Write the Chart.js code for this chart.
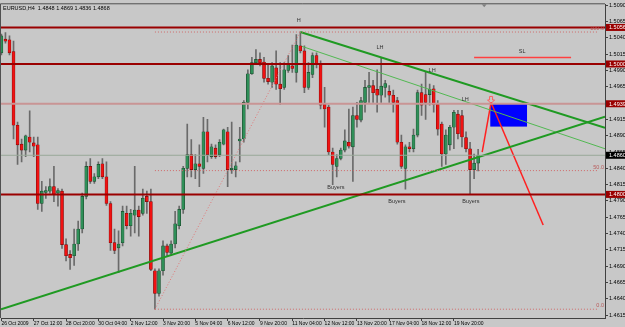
<!DOCTYPE html>
<html>
<head>
<meta charset="utf-8">
<script src="https://cdn.jsdelivr.net/npm/chart.js@4"></script>
<style>
  html, body { margin: 0; padding: 0; background: #c8c8c8; }
  #wrap { width: 625px; height: 327px; }
</style>
</head>
<body>
<div id="wrap"><canvas id="myChart"></canvas></div>
<script>
// EURUSD H4, 26 Oct - 20 Nov 2009 (one value per 4h bar)
const opens = [
  1.5017, 1.5038, 1.5037, 1.5019, 1.4906, 1.4877, 1.4868, 1.4888, 1.4879, 1.4876,
  1.4786, 1.4803, 1.4805, 1.4812, 1.4802, 1.4805, 1.4723, 1.4708, 1.4706, 1.4724,
  1.4747, 1.4797, 1.4843, 1.4820, 1.4827, 1.4847, 1.4827, 1.4786, 1.4726, 1.4718,
  1.4726, 1.4771, 1.4752, 1.4768, 1.4776, 1.4771, 1.4797, 1.4789, 1.4683, 1.4648,
  1.4683, 1.4721, 1.4710, 1.4724, 1.4752, 1.4777, 1.4840, 1.4861, 1.4838, 1.4847,
  1.4840, 1.4896, 1.4858, 1.4871, 1.4861, 1.4877, 1.4896, 1.4838, 1.4838, 1.4882,
  1.4885, 1.4941, 1.4985, 1.5002, 1.5007, 1.5003, 1.4978, 1.4972, 1.4994, 1.4969,
  1.4964, 1.4990, 1.4997, 1.4987, 1.5028, 1.5020, 1.4964, 1.4984, 1.5013, 1.4999,
  1.4938, 1.4934, 1.4865, 1.4843, 1.4855, 1.4868, 1.4880, 1.4873, 1.4921, 1.4914,
  1.4941, 1.4964, 1.4967, 1.4961, 1.4952, 1.4964, 1.4958, 1.4952, 1.4944, 1.4880,
  1.4840, 1.4873, 1.4870, 1.4891, 1.4956, 1.4953, 1.4953, 1.4962, 1.4938, 1.4908,
  1.4862, 1.4876, 1.4903, 1.4923, 1.4921, 1.4887, 1.4870, 1.4838, 1.4848
];
const highs = [
  1.5046, 1.5048, 1.5043, 1.5035, 1.4911, 1.4885, 1.4891, 1.4928, 1.4888, 1.4888,
  1.4820, 1.4812, 1.4824, 1.4843, 1.4809, 1.4808, 1.4732, 1.4714, 1.4747, 1.4759,
  1.4802, 1.4850, 1.4855, 1.4832, 1.4850, 1.4855, 1.4850, 1.4789, 1.4747, 1.4744,
  1.4782, 1.4782, 1.4777, 1.4843, 1.4782, 1.4808, 1.4805, 1.4808, 1.4686, 1.4686,
  1.4729, 1.4724, 1.4729, 1.4774, 1.4782, 1.4843, 1.4908, 1.4884, 1.4861, 1.4876,
  1.4918, 1.4915, 1.4877, 1.4876, 1.4884, 1.4900, 1.4903, 1.4911, 1.4850, 1.4903,
  1.4944, 1.4991, 1.5010, 1.5022, 1.5017, 1.5010, 1.4999, 1.5002, 1.5020, 1.5002,
  1.5002, 1.5013, 1.5029, 1.5045, 1.5049, 1.5028, 1.5002, 1.5017, 1.5017, 1.5005,
  1.4964, 1.4937, 1.4871, 1.4861, 1.4871, 1.4899, 1.4931, 1.4934, 1.4941, 1.4949,
  1.4975, 1.4987, 1.4975, 1.4991, 1.5010, 1.4975, 1.4967, 1.4960, 1.4949, 1.4891,
  1.4876, 1.4880, 1.4900, 1.4960, 1.4969, 1.4987, 1.4969, 1.4967, 1.4944, 1.4911,
  1.4899, 1.4906, 1.4929, 1.4929, 1.4929, 1.4896, 1.4880, 1.4862, 1.4869
];
const lows = [
  1.5014, 1.5032, 1.5014, 1.4885, 1.4846, 1.4850, 1.4858, 1.4865, 1.4858, 1.4777,
  1.4774, 1.4794, 1.4802, 1.4789, 1.4782, 1.4717, 1.4698, 1.4685, 1.4691, 1.4714,
  1.4741, 1.4793, 1.4817, 1.4817, 1.4824, 1.4824, 1.4783, 1.4714, 1.4709, 1.4680,
  1.4721, 1.4747, 1.4736, 1.4741, 1.4736, 1.4768, 1.4771, 1.4683, 1.4624, 1.4644,
  1.4676, 1.4706, 1.4706, 1.4718, 1.4747, 1.4771, 1.4827, 1.4827, 1.4824, 1.4812,
  1.4832, 1.4850, 1.4855, 1.4855, 1.4858, 1.4876, 1.4812, 1.4832, 1.4827, 1.4850,
  1.4880, 1.4931, 1.4984, 1.4999, 1.4997, 1.4972, 1.4969, 1.4964, 1.4961, 1.4938,
  1.4961, 1.4987, 1.4987, 1.4972, 1.5017, 1.4956, 1.4961, 1.4979, 1.4994, 1.4931,
  1.4903, 1.4861, 1.4815, 1.4827, 1.4853, 1.4865, 1.4871, 1.4820, 1.4903, 1.4911,
  1.4926, 1.4941, 1.4941, 1.4926, 1.4941, 1.4949, 1.4941, 1.4926, 1.4877, 1.4840,
  1.4808, 1.4865, 1.4865, 1.4888, 1.4921, 1.4915, 1.4937, 1.4926, 1.4891, 1.4843,
  1.4846, 1.4868, 1.4870, 1.4885, 1.4873, 1.4865, 1.4800, 1.4824, 1.4836
];
const closes = [
  1.5043, 1.5035, 1.5017, 1.4906, 1.4876, 1.4868, 1.4890, 1.4880, 1.4874, 1.4786,
  1.4805, 1.4806, 1.4812, 1.4800, 1.4806, 1.4723, 1.4706, 1.4703, 1.4724, 1.4747,
  1.4797, 1.4843, 1.4820, 1.4827, 1.4846, 1.4827, 1.4786, 1.4726, 1.4714, 1.4724,
  1.4774, 1.4752, 1.4771, 1.4776, 1.4766, 1.4794, 1.4789, 1.4685, 1.4648, 1.4683,
  1.4721, 1.4711, 1.4724, 1.4755, 1.4777, 1.4840, 1.4861, 1.4838, 1.4847, 1.4843,
  1.4896, 1.4861, 1.4873, 1.4858, 1.4880, 1.4899, 1.4838, 1.4840, 1.4844, 1.4885,
  1.4941, 1.4985, 1.5002, 1.5007, 1.5002, 1.4978, 1.4973, 1.4997, 1.4969, 1.4962,
  1.4991, 1.4999, 1.4993, 1.5029, 1.5020, 1.4964, 1.4987, 1.5013, 1.4999, 1.4937,
  1.4931, 1.4865, 1.4846, 1.4855, 1.4868, 1.4882, 1.4874, 1.4921, 1.4915, 1.4944,
  1.4964, 1.4967, 1.4956, 1.4952, 1.4966, 1.4970, 1.4952, 1.4941, 1.4880, 1.4843,
  1.4873, 1.4870, 1.4891, 1.4956, 1.4937, 1.4941, 1.4961, 1.4938, 1.4900, 1.4862,
  1.4891, 1.4903, 1.4926, 1.4893, 1.4888, 1.4870, 1.4838, 1.4848, 1.4860
];

// bottom axis: label text and the bar it sits on
const timeLabels = ['26 Oct 2009', '27 Oct 12:00', '28 Oct 20:00', '30 Oct 04:00', '2 Nov 12:00',
  '3 Nov 20:00', '5 Nov 04:00', '6 Nov 12:00', '9 Nov 20:00', '11 Nov 04:00', '12 Nov 12:00',
  '13 Nov 20:00', '17 Nov 04:00', '18 Nov 12:00', '19 Nov 20:00'];
const timeBars = [0, 8, 16, 24, 32, 40, 48, 56, 64, 72, 80, 88, 96, 104, 112];

// right axis
const priceTicks = [1.5090, 1.5065, 1.5040, 1.5015, 1.4990, 1.4965, 1.4940, 1.4915, 1.4890,
  1.4865, 1.4840, 1.4815, 1.4790, 1.4765, 1.4740, 1.4715, 1.4690, 1.4665, 1.4640, 1.4615];

// drawn objects
const levels = [1.5056, 1.5000, 1.4800];
const paleLevel = 1.4939;
const bidPrice = 1.4860;
const fiboLow = 1.4624, fiboHigh = 1.5049, fiboLowBar = 38, fiboHighBar = 74;
const supportLine = [[-0.1, 1.4624], [149.4, 1.4919]];
const resistLine = [[74, 1.5049], [149.4, 1.4902]];
const innerLine = [[74.4, 1.5027], [149.4, 1.4870]];
const upMove = [[119.0, 1.4865], [121.2, 1.4941]];
const downMove = [[121.2, 1.4941], [134.1, 1.4753]];
const slLine = [[117.0, 1.5010], [141.0, 1.5010]];
const zone = { x0: 121.0, x1: 130.1, top: 1.4939, bottom: 1.4904 };
const notes = [
  ['H', 73.6, 1.5066], ['LH', 93.7, 1.5025], ['LH', 106.6, 1.4990], ['LH', 114.8, 1.4946],
  ['Buyers', 82.8, 1.4810], ['Buyers', 97.9, 1.4789], ['Buyers', 116.2, 1.4789], ['SL', 128.9, 1.5019]
];
const axisBoxes = [['1.5056', 1.5056, '#9a0000'], ['1.5000', 1.5000, '#9a0000'],
  ['1.4939', 1.4939, '#9a0000'], ['1.4860', 1.4860, '#000000'], ['1.4800', 1.4800, '#9a0000']];

const xMin = -0.1, xMax = 149.4;
const FONT = "'Liberation Sans', Arial, sans-serif";

const wickData = lows.map((l, i) => ({ x: i, y: [l, highs[i]] }));
const bodyData = opens.map((o, i) => ({ x: i, y: [o, closes[i]] }));
const isUp = opens.map((o, i) => closes[i] >= o);

function seg(points, color, width, dash) {
  return {
    type: 'line',
    data: points.map(p => ({ x: p[0], y: p[1] })),
    borderColor: color,
    borderWidth: width,
    borderDash: dash || [],
    pointRadius: 0,
    fill: false,
    tension: 0,
    order: 0
  };
}

const fibMid = (fiboLow + fiboHigh) / 2;

const lineSets = [
  ...levels.map(v => seg([[xMin, v], [xMax, v]], '#9a0000', 2)),
  seg([[xMin, paleLevel], [xMax, paleLevel]], '#c99595', 2),
  seg([[xMin, bidPrice], [xMax, bidPrice]], '#98a898', 1),
  seg([[fiboLowBar, fiboHigh], [147.7, fiboHigh]], '#d06a6a', 1, [1, 2]),
  seg([[fiboLowBar, fibMid], [147.7, fibMid]], '#d06a6a', 1, [1, 2]),
  seg([[fiboLowBar, fiboLow], [147.7, fiboLow]], '#d06a6a', 1, [1, 2]),
  seg([[fiboLowBar, fiboLow], [fiboHighBar, fiboHigh]], '#e07878', 1, [1, 2]),
  seg(supportLine, '#1f9a22', 2),
  seg(resistLine, '#1f9a22', 2),
  seg(innerLine, '#52b852', 1),
  seg(upMove, '#ff2020', 1.5),
  seg(downMove, '#ff2020', 1.5),
  seg(slLine, '#ff4040', 1.5)
];

const drawings = {
  id: 'drawings',
  beforeDraw(chart) {
    const c = chart.ctx;
    c.save();
    c.fillStyle = '#c8c8c8';
    c.fillRect(0, 0, chart.width, chart.height);
    c.restore();
  },
  beforeDatasetsDraw(chart) {
    const c = chart.ctx, xs = chart.scales.x, ys = chart.scales.y;
    const x0 = xs.getPixelForValue(zone.x0), x1 = xs.getPixelForValue(zone.x1);
    const y0 = ys.getPixelForValue(zone.top), y1 = ys.getPixelForValue(zone.bottom);
    c.save();
    c.fillStyle = '#0000ff';
    c.fillRect(x0, y0, x1 - x0, y1 - y0);
    c.restore();
  },
  afterDraw(chart) {
    const c = chart.ctx, xs = chart.scales.x, ys = chart.scales.y, a = chart.chartArea;
    c.save();
    // frame
    c.strokeStyle = '#505050';
    c.lineWidth = 1;
    c.beginPath();
    c.moveTo(a.left - 0.5, a.bottom);
    c.lineTo(a.left - 0.5, a.top - 0.5);
    c.lineTo(a.right, a.top - 0.5);
    c.stroke();

    // header
    c.font = '5.5px ' + FONT;
    c.fillStyle = '#000';
    c.textBaseline = 'middle';
    c.textAlign = 'left';
    c.fillText('EURUSD,H4  1.4848 1.4869 1.4836 1.4868', a.left + 2, a.top + 4.5);

    // notes on the chart
    c.fillStyle = '#303030';
    c.textAlign = 'center';
    notes.forEach(n => c.fillText(n[0], xs.getPixelForValue(n[1]), ys.getPixelForValue(n[2])));

    // fibo level captions
    c.fillStyle = '#b85a5a';
    c.textAlign = 'right';
    c.textBaseline = 'bottom';
    [['100.0', fiboHigh], ['50.0', fibMid], ['0.0', fiboLow]].forEach(f =>
      c.fillText(f[0], a.right - 1, ys.getPixelForValue(f[1]) - 0.5));

    // arrow mark at the turn
    const ax = xs.getPixelForValue(upMove[1][0]), ay = ys.getPixelForValue(upMove[1][1]);
    c.strokeStyle = '#ff6060';
    c.lineWidth = 1;
    c.beginPath();
    c.moveTo(ax - 1.5, ay - 6); c.lineTo(ax + 1.5, ay - 6); c.lineTo(ax + 1.5, ay - 2.5);
    c.lineTo(ax + 3.5, ay - 2.5); c.lineTo(ax, ay + 1); c.lineTo(ax - 3.5, ay - 2.5);
    c.lineTo(ax - 1.5, ay - 2.5); c.closePath();
    c.stroke();

    // chart shift marker
    const sx = xs.getPixelForValue(119.5);
    c.fillStyle = '#808080';
    c.beginPath();
    c.moveTo(sx - 2.5, a.top); c.lineTo(sx + 2.5, a.top); c.lineTo(sx, a.top + 3);
    c.closePath(); c.fill();

    // price boxes on the axis
    c.textAlign = 'left';
    c.textBaseline = 'middle';
    axisBoxes.forEach(b => {
      const y = ys.getPixelForValue(b[1]);
      c.fillStyle = b[2];
      c.fillRect(a.right + 1, y - 3.5, chart.width - a.right - 1, 7);
      c.fillStyle = '#ffffff';
      c.fillText(b[0], a.right + 4, y + 0.5);
    });
    c.restore();
  }
};

const ctx = document.getElementById('myChart');

const myChart = new Chart(ctx, {
  type: 'bar',
  data: {
    datasets: [
      ...lineSets,
      {
        label: 'body',
        data: bodyData,
        grouped: false,
        barThickness: 3,
        minBarLength: 1,
        backgroundColor: isUp.map(u => u ? '#2f8f58' : '#f01212'),
        borderColor: isUp.map(u => u ? '#1b4a2c' : '#7a0a0a'),
        borderWidth: 0.6,
        borderSkipped: false,
        order: 5
      },
      {
        label: 'wick',
        data: wickData,
        grouped: false,
        barThickness: 1,
        backgroundColor: '#6a6a6a',
        borderWidth: 0,
        order: 6
      }
    ]
  },
  options: {
    responsive: true,
    maintainAspectRatio: false,
    animation: false,
    devicePixelRatio: 1,
    layout: { padding: { left: 1, top: 1, right: 0, bottom: 0 } },
    plugins: { legend: { display: false }, tooltip: { enabled: false } },
    scales: {
      x: {
        type: 'linear',
        min: xMin,
        max: xMax,
        offset: false,
        grid: { display: true, drawOnChartArea: false, drawTicks: true, tickLength: 3, color: '#404040', offset: false },
        border: { display: true, color: '#404040' },
        ticks: {
          autoSkip: false,
          maxRotation: 0,
          align: 'start',
          padding: 0,
          color: '#000',
          font: { family: FONT, size: 5 },
          callback: v => timeLabels[timeBars.indexOf(v)]
        },
        afterBuildTicks: s => { s.ticks = timeBars.map(v => ({ value: v })); },
        afterFit: s => { s.height = 9; }
      },
      y: {
        position: 'right',
        min: 1.46105,
        max: 1.50915,
        grid: { display: true, drawOnChartArea: false, drawTicks: true, tickLength: 3, color: '#404040' },
        border: { display: true, color: '#404040' },
        ticks: {
          padding: 1,
          color: '#000',
          font: { family: FONT, size: 5.5 },
          callback: v => v.toFixed(4)
        },
        afterBuildTicks: s => { s.ticks = priceTicks.map(v => ({ value: v })); },
        afterFit: s => { s.width = 20; }
      }
    }
  },
  plugins: [drawings]
});
</script>
</body>
</html>
